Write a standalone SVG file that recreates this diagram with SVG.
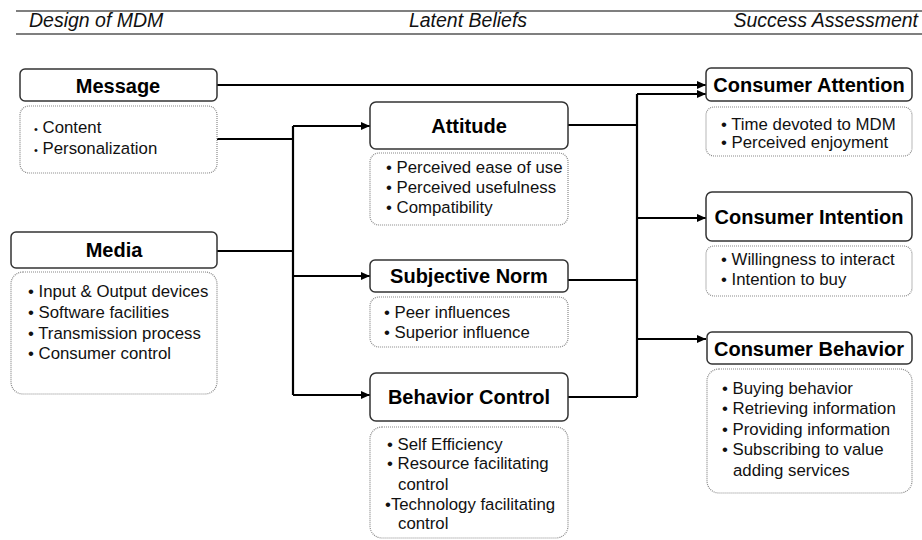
<svg xmlns="http://www.w3.org/2000/svg" width="922" height="540" viewBox="0 0 922 540">
<style>
  .hdr { font-family: "Liberation Sans", Arial, sans-serif; font-style: italic; font-size: 19.5px; fill: #111; }
  .hline { stroke: #555; stroke-width: 1.5; }
  .title { fill: #fff; stroke: #333; stroke-width: 1.5; }
  .sub { fill: #fff; stroke: #888; stroke-width: 1.2; stroke-dasharray: 1 1; }
  .tt { font-family: "Liberation Sans", Arial, sans-serif; font-weight: bold; font-size: 20px; fill: #000; text-anchor: middle; }
  .bt { font-family: "Liberation Sans", Arial, sans-serif; font-size: 16.8px; fill: #111; }
  .conn { fill: none; stroke: #000; stroke-width: 2.2; }
</style>
<defs>
  <marker id="arr" markerUnits="userSpaceOnUse" markerWidth="9" markerHeight="8" refX="9" refY="4" orient="auto">
    <path d="M0,0 L9,4 L0,8 z" fill="#000"/>
  </marker>
</defs>

<g id="header">
  <line class="hline" x1="16" y1="11" x2="922" y2="11"/>
  <line class="hline" x1="16" y1="34" x2="922" y2="34"/>
  <text class="hdr" x="29" y="27">Design of MDM</text>
  <text class="hdr" x="468" y="27" text-anchor="middle">Latent Beliefs</text>
  <text class="hdr" x="918" y="27" text-anchor="end">Success Assessment</text>
</g>

<g id="connectors">
  <path class="conn" d="M217,85 L706,85" marker-end="url(#arr)"/>
  <path class="conn" d="M217,139 L293,139"/>
  <path class="conn" d="M217,251 L293,251"/>
  <path class="conn" d="M293,126 L293,395"/>
  <path class="conn" d="M293,126 L370,126" marker-end="url(#arr)"/>
  <path class="conn" d="M293,276 L370,276" marker-end="url(#arr)"/>
  <path class="conn" d="M293,395 L370,395" marker-end="url(#arr)"/>
  <path class="conn" d="M568,125 L637,125"/>
  <path class="conn" d="M568,280 L637,280"/>
  <path class="conn" d="M568,397 L637,397"/>
  <path class="conn" d="M637,94 L637,397"/>
  <path class="conn" d="M637,94 L706,94" marker-end="url(#arr)"/>
  <path class="conn" d="M637,218 L706,218" marker-end="url(#arr)"/>
  <path class="conn" d="M637,339 L706,339" marker-end="url(#arr)"/>
</g>

<g id="message">
  <rect class="title" x="20" y="69" width="197" height="32" rx="5"/>
  <text class="tt" x="118" y="93">Message</text>
  <rect class="sub" x="20" y="106" width="197" height="67" rx="9"/>
  <text class="bt" x="34" y="133"><tspan font-size="11">•</tspan> Content</text>
  <text class="bt" x="34" y="154"><tspan font-size="11">•</tspan> Personalization</text>
</g>

<g id="media">
  <rect class="title" x="11" y="232" width="206" height="36" rx="5"/>
  <text class="tt" x="114" y="257">Media</text>
  <rect class="sub" x="11" y="272" width="206" height="122" rx="12"/>
  <text class="bt" x="28" y="297">• Input &amp; Output devices</text>
  <text class="bt" x="28" y="318">• Software facilities</text>
  <text class="bt" x="28" y="339">• Transmission process</text>
  <text class="bt" x="28" y="359">• Consumer control</text>
</g>

<g id="attitude">
  <rect class="title" x="370" y="102" width="198" height="47" rx="6"/>
  <text class="tt" x="469" y="133">Attitude</text>
  <rect class="sub" x="370" y="153" width="198" height="72" rx="9"/>
  <text class="bt" x="386" y="173">• Perceived ease of use</text>
  <text class="bt" x="386" y="193">• Perceived usefulness</text>
  <text class="bt" x="386" y="213">• Compatibility</text>
</g>

<g id="subjective-norm">
  <rect class="title" x="370" y="260" width="198" height="32" rx="5"/>
  <text class="tt" x="469" y="283">Subjective Norm</text>
  <rect class="sub" x="370" y="297" width="198" height="50" rx="9"/>
  <text class="bt" x="384" y="318">• Peer influences</text>
  <text class="bt" x="384" y="338">• Superior influence</text>
</g>

<g id="behavior-control">
  <rect class="title" x="370" y="373" width="198" height="48" rx="6"/>
  <text class="tt" x="469" y="404">Behavior Control</text>
  <rect class="sub" x="370" y="427" width="198" height="111" rx="12"/>
  <text class="bt" x="387" y="450">• Self Efficiency</text>
  <text class="bt" x="387" y="469">• Resource facilitating</text>
  <text class="bt" x="398" y="490">control</text>
  <text class="bt" x="385" y="510">•Technology facilitating</text>
  <text class="bt" x="398" y="529">control</text>
</g>

<g id="consumer-attention">
  <rect class="title" x="706" y="68" width="206" height="33" rx="5"/>
  <text class="tt" x="809" y="92">Consumer Attention</text>
  <rect class="sub" x="706" y="107" width="206" height="49" rx="8"/>
  <text class="bt" x="721" y="130">• Time devoted to MDM</text>
  <text class="bt" x="721" y="148">• Perceived enjoyment</text>
</g>

<g id="consumer-intention">
  <rect class="title" x="706" y="192" width="206" height="49" rx="6"/>
  <text class="tt" x="809" y="224">Consumer Intention</text>
  <rect class="sub" x="706" y="246" width="206" height="50" rx="8"/>
  <text class="bt" x="721" y="265">• Willingness to interact</text>
  <text class="bt" x="721" y="285">• Intention to buy</text>
</g>

<g id="consumer-behavior">
  <rect class="title" x="707" y="332" width="205" height="32" rx="5"/>
  <text class="tt" x="809" y="356">Consumer Behavior</text>
  <rect class="sub" x="707" y="369" width="205" height="124" rx="12"/>
  <text class="bt" x="722" y="394">• Buying behavior</text>
  <text class="bt" x="722" y="414">• Retrieving information</text>
  <text class="bt" x="722" y="435">• Providing information</text>
  <text class="bt" x="722" y="455">• Subscribing to value</text>
  <text class="bt" x="733" y="476">adding services</text>
</g>
</svg>
